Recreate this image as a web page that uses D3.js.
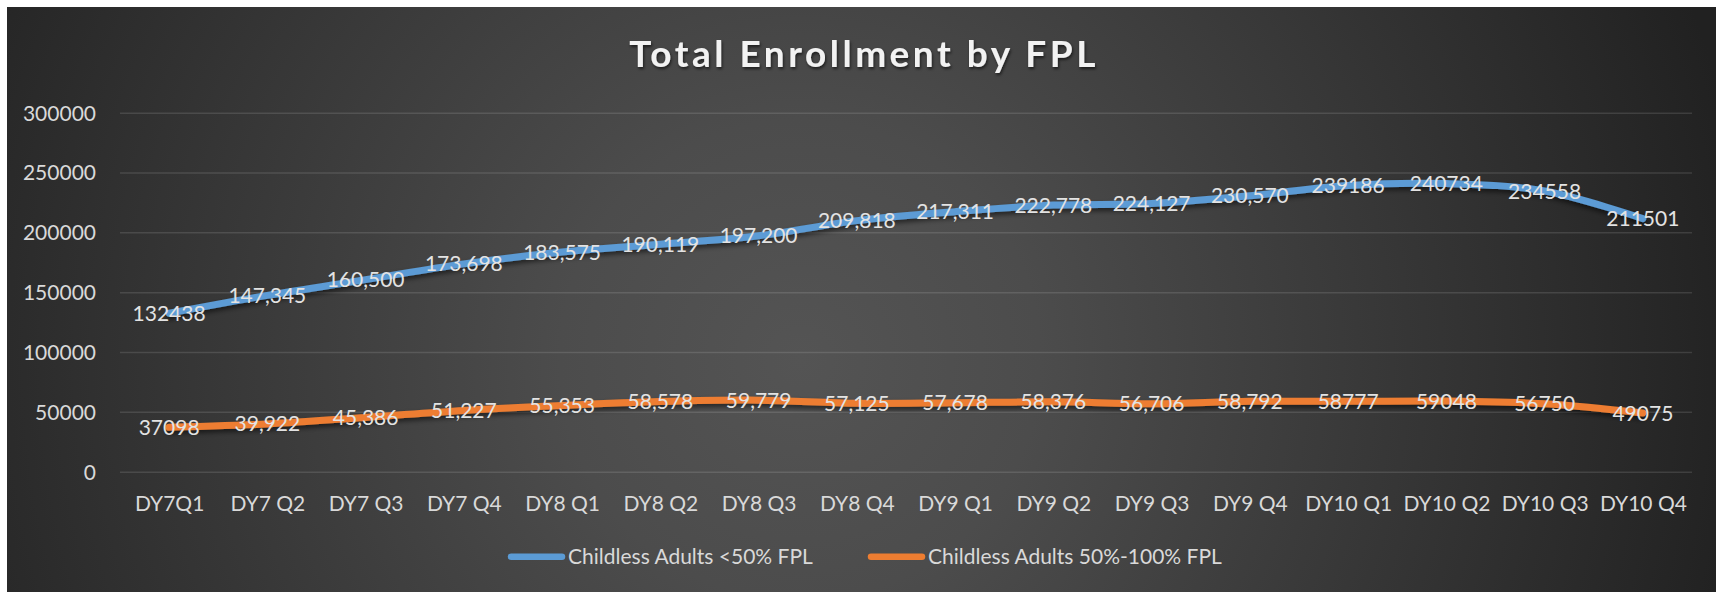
<!DOCTYPE html>
<html>
<head>
<meta charset="utf-8">
<script src="https://cdn.jsdelivr.net/npm/d3@7"></script>
<style>
  html, body { margin: 0; padding: 0; background: #ffffff; }
  svg { display: block; }
  text { font-family: Lato, "Open Sans", sans-serif; }
</style>
</head>
<body>
<svg id="chart" width="1716" height="592"></svg>
<script>
const categories = ["DY7Q1","DY7 Q2","DY7 Q3","DY7 Q4","DY8 Q1","DY8 Q2","DY8 Q3","DY8 Q4",
                    "DY9 Q1","DY9 Q2","DY9 Q3","DY9 Q4","DY10 Q1","DY10 Q2","DY10 Q3","DY10 Q4"];
const below50 = [132438,147345,160500,173698,183575,190119,197200,209818,
                 217311,222778,224127,230570,239186,240734,234558,211501];
const from50to100 = [37098,39922,45386,51227,55353,58578,59779,57125,
                     57678,58376,56706,58792,58777,59048,56750,49075];
// whether each data label is shown with a thousands separator
const labelComma = [false,true,true,true,true,true,true,true,
                    true,true,true,true,false,false,false,false];
const seriesNames = ["Childless Adults <50% FPL","Childless Adults 50%-100% FPL"];
const yTicks = [0,50000,100000,150000,200000,250000,300000];
const titleText = "Total Enrollment by FPL";

const series = [
  { name: seriesNames[0], values: below50, color: "#5B9BD5" },
  { name: seriesNames[1], values: from50to100, color: "#ED7D31" }
];

const svg = d3.select("#chart");
const defs = svg.append("defs");

const grad = defs.append("radialGradient")
  .attr("id", "bg").attr("gradientUnits", "userSpaceOnUse")
  .attr("cx", 800).attr("cy", 360).attr("r", 960);
grad.append("stop").attr("offset", "0").attr("stop-color", "#545454");
grad.append("stop").attr("offset", "0.25").attr("stop-color", "#4c4c4c");
grad.append("stop").attr("offset", "1").attr("stop-color", "#212121");

const sh = defs.append("filter").attr("id", "lineShadow")
  .attr("x", "-5%").attr("y", "-20%").attr("width", "110%").attr("height", "160%");
sh.append("feDropShadow").attr("dx", 0).attr("dy", 3).attr("stdDeviation", 2.5)
  .attr("flood-color", "#000").attr("flood-opacity", 0.55);

const tsh = defs.append("filter").attr("id", "textShadow")
  .attr("x", "-10%").attr("y", "-30%").attr("width", "120%").attr("height", "170%");
tsh.append("feDropShadow").attr("dx", 1).attr("dy", 2).attr("stdDeviation", 1.5)
  .attr("flood-color", "#000").attr("flood-opacity", 0.6);

// background
svg.append("rect").attr("x", 7).attr("y", 7).attr("width", 1716 - 7).attr("height", 592 - 7)
  .attr("fill", "url(#bg)");

const plot = { left: 120, right: 1692, top: 112.7, bottom: 471.7 };

const x = d3.scalePoint().domain(categories).range([plot.left, plot.right]).padding(0.5);
const y = d3.scaleLinear().domain([0, 300000]).range([plot.bottom, plot.top]);

// gridlines + y labels via axis
const yAxis = d3.axisLeft(y).tickValues(yTicks).tickSize(-(plot.right - plot.left))
  .tickFormat(d3.format("d")).tickPadding(24);
const yg = svg.append("g").attr("transform", `translate(${plot.left},0)`).call(yAxis);
yg.select(".domain").remove();
yg.selectAll(".tick line").attr("stroke", "rgba(255,255,255,0.12)").attr("stroke-width", 1.5);
yg.selectAll(".tick text").attr("fill", "#d9d9d9").attr("font-size", 21)
  .attr("font-family", "Lato, sans-serif").attr("dy", "0.35em");

// x labels via axis
const xAxis = d3.axisBottom(x).tickSize(0).tickPadding(24);
const xg = svg.append("g").attr("transform", `translate(0,${plot.bottom})`).call(xAxis);
xg.select(".domain").remove();
xg.selectAll(".tick text").attr("fill", "#d9d9d9").attr("font-size", 21)
  .attr("font-family", "Lato, sans-serif");

// lines
const line = d3.line()
  .x((d, i) => x(categories[i]))
  .y(d => y(d))
  .curve(d3.curveCatmullRom.alpha(0.5));

series.forEach(s => {
  svg.append("path").datum(s.values)
    .attr("d", line).attr("fill", "none")
    .attr("stroke", s.color).attr("stroke-width", 7)
    .attr("stroke-linecap", "round").attr("stroke-linejoin", "round")
    .attr("filter", "url(#lineShadow)");
});

// data labels
const fmtComma = d3.format(",");
series.forEach(s => {
  svg.append("g").selectAll("text").data(s.values).join("text")
    .attr("x", (d, i) => x(categories[i]))
    .attr("y", d => y(d))
    .attr("dy", "0.36em")
    .attr("text-anchor", "middle")
    .attr("font-size", 21)
    .attr("fill", "#e3e3e3")
    .text((d, i) => labelComma[i] ? fmtComma(d) : String(d));
});

// title
svg.append("text").attr("x", 864).attr("y", 66.7).attr("text-anchor", "middle")
  .attr("font-size", 37).attr("font-weight", 700).attr("letter-spacing", 3.5)
  .attr("fill", "#f2f2f2").attr("filter", "url(#textShadow)")
  .text(titleText);

// legend
const legendItems = [
  { x0: 508, text: series[0].name, color: series[0].color },
  { x0: 868, text: series[1].name, color: series[1].color }
];
const lg = svg.append("g");
legendItems.forEach(it => {
  lg.append("line").attr("x1", it.x0 + 3).attr("x2", it.x0 + 54)
    .attr("y1", 556.7).attr("y2", 556.7)
    .attr("stroke", it.color).attr("stroke-width", 6.5).attr("stroke-linecap", "round");
  lg.append("text").attr("x", it.x0 + 60).attr("y", 556.7).attr("dy", "0.36em")
    .attr("font-size", 21).attr("fill", "#d9d9d9").text(it.text);
});
</script>
</body>
</html>
